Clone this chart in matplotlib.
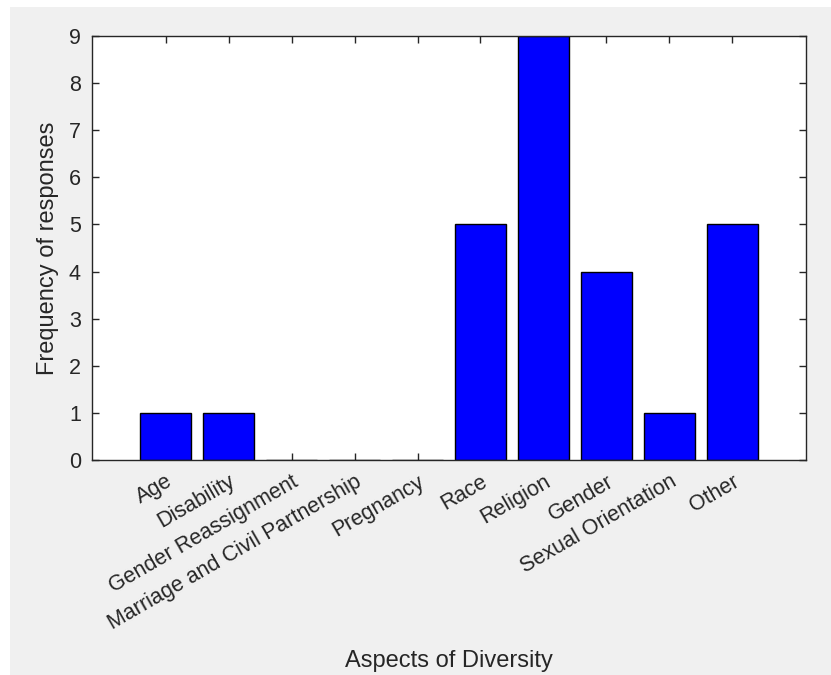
import matplotlib.pyplot as plt
from matplotlib.patches import Rectangle

plt.rcParams['font.family'] = ['Liberation Sans', 'DejaVu Sans']

# data
aspects = ['Age', 'Disability', 'Gender Reassignment', 'Marriage and Civil Partnership',
           'Pregnancy', 'Race', 'Religion', 'Gender', 'Sexual Orientation', 'Other']
freq = [1, 1, 0, 0, 0, 5, 9, 4, 1, 5]
y_ticks = list(range(0, 10))

dark = '#262626'

fig = plt.figure(figsize=(8.31, 6.75), dpi=100)
fig.patch.set_facecolor('white')
# gray MATLAB-style figure background
fig.patches.append(Rectangle((10 / 831, 0), 1 - 10 / 831, 1 - 7 / 675,
                             transform=fig.transFigure, facecolor='#f0f0f0',
                             edgecolor='none', zorder=-10))

ax = fig.add_axes([92 / 831, 1 - 460 / 675, (806 - 92) / 831, (460 - 36) / 675])
ax.set_facecolor('white')

x = list(range(1, len(aspects) + 1))
ax.bar(x, freq, width=0.8, color='#0000ff', edgecolor='black', linewidth=1.0, zorder=2)

ax.set_xlim(-0.17, len(aspects) + 1.17)
ax.set_ylim(0, 9)
ax.set_yticks(y_ticks)
ax.set_xticks(x)
ax.set_xticklabels(aspects, rotation=30, ha='right', va='top', rotation_mode='anchor')

ax.tick_params(direction='in', length=5, width=1, colors=dark, labelsize=15.5,
               top=True, right=True, labelcolor=dark, pad=8)
for s in ax.spines.values():
    s.set_color(dark)
    s.set_linewidth(1)
    s.set_zorder(3)

ax.set_ylabel('Frequency of responses', fontsize=17, color=dark)
ax.set_xlabel('Aspects of Diversity', fontsize=17, color=dark)
ax.xaxis.set_label_coords(0.5, -(661 - 460) / (460 - 36))
ax.yaxis.set_label_coords(-(92 - 48) / (806 - 92), 0.5)
ax.xaxis.label.set_va('center')
ax.yaxis.label.set_va('center')

fig.savefig('out.png', dpi=100)
